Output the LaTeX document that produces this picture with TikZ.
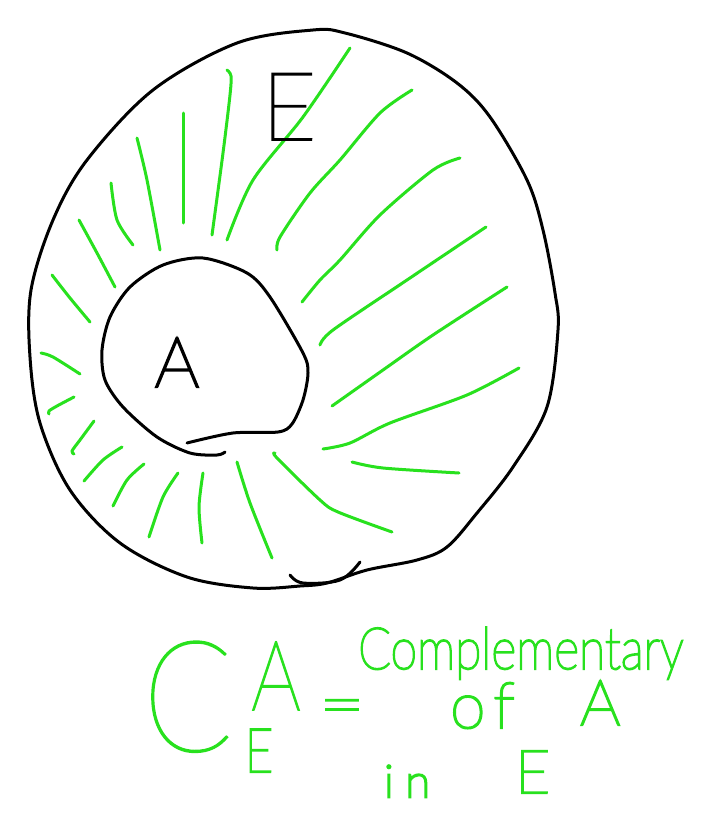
\documentclass[tikz,border=0pt]{standalone}
\usepackage{fontspec}
\setmainfont{Lato}
\newfontfamily\inkbig{Lato Thin}[FakeBold=1.2]
\newfontfamily\inkmid{Lato Thin}[FakeBold=2]
\newfontfamily\inksmall{Lato Thin}[FakeBold=3.5]
\newfontfamily\inktiny{Lato Thin}[FakeBold=5.5]
\definecolor{hgreen}{RGB}{40,225,30}
\begin{document}
\begin{tikzpicture}[x=1pt,y=-1pt,
  ink/.style={line width=3pt, line cap=round, line join=round},
  outline/.style={ink, draw=black},
  hatch/.style={ink, draw=hgreen},
  gtext/.style={text=hgreen, inner sep=0pt},
  btext/.style={text=black, inner sep=0pt}]
\useasboundingbox (0,0) rectangle (713,830);
\fill[white] (0,0) rectangle (713,830);

% outer set E
\draw[outline] plot[smooth cycle, tension=0.55] coordinates {
 (313,30) (345,33) (407,53) (457,83) (490,117) (527,180) (543,230) (555,293)
 (558,330) (547,407) (513,467) (477,513) (447,547) (417,560) (367,570)
 (327,583) (300,586) (253,588) (187,577) (120,543) (70,490) (40,423)
 (30,357) (31,290) (53,220) (87,160) (153,90) (237,43)};
% small hook at the bottom
\draw[outline] plot[smooth, tension=0.6] coordinates {(290,575) (303,583) (340,580) (360,562)};

% inner set A
\draw[outline] plot[smooth, tension=0.5] coordinates {
 (187,443) (233,433) (278,432) (292,424) (303,400) (308,373) (303,353)
 (270,297) (247,273) (203,258) (163,265) (130,287) (110,317) (102,350)
 (105,380) (123,407) (157,437) (190,453) (217,455) (225,452)};

% green hatching
\draw[hatch] plot[smooth] coordinates {(350,48) (303,117) (253,180) (227,240)};
\draw[hatch] plot[smooth] coordinates {(227,70) (231,76) (230,95) (223,153) (212,235)};
\draw[hatch] plot[smooth] coordinates {(183,113) (183,170) (183,223)};
\draw[hatch] plot[smooth] coordinates {(137,138) (147,180) (160,250)};
\draw[hatch] plot[smooth] coordinates {(111,183) (117,220) (133,245)};
\draw[hatch] plot[smooth] coordinates {(79,220) (97,253) (115,287)};
\draw[hatch] plot[smooth] coordinates {(52,275) (70,298) (90,322)};
\draw[hatch] plot[smooth] coordinates {(412,90) (380,113) (340,160) (310,193) (280,237) (277,250)};
\draw[hatch] plot[smooth] coordinates {(460,158) (433,170) (380,215) (340,260) (320,280) (302,302)};
\draw[hatch] plot[smooth] coordinates {(486,227) (407,280) (333,330) (320,345)};
\draw[hatch] plot[smooth] coordinates {(507,287) (433,335) (383,370) (332,406)};
\draw[hatch] plot[smooth] coordinates {(519,368) (467,395) (390,423) (350,443) (323,449)};
\draw[hatch] plot[smooth] coordinates {(352,462) (383,468) (459,473)};
\draw[hatch] plot[smooth] coordinates {(275,453) (277,458) (320,500) (338,512) (392,532)};
\draw[hatch] plot[smooth] coordinates {(237,462) (250,503) (272,558)};
\draw[hatch] plot[smooth] coordinates {(203,473) (199,507) (202,543)};
\draw[hatch] plot[smooth] coordinates {(178,473) (163,497) (149,537)};
\draw[hatch] plot[smooth] coordinates {(144,464) (127,480) (113,506)};
\draw[hatch] plot[smooth] coordinates {(122,447) (103,460) (84,481)};
\draw[hatch] plot[smooth] coordinates {(94,421) (80,440) (72,451) (74,454)};
\draw[hatch] plot[smooth] coordinates {(74,397) (57,406) (49,411) (49,414)};
\draw[hatch] plot[smooth] coordinates {(41,353) (53,357) (80,374)};

% labels of the sets
\node[btext, anchor=base, font=\inkmid\fontsize{95}{95}\selectfont] (Elabel) at (289,140) {E};
\node[btext, anchor=base, font=\inksmall\fontsize{70}{70}\selectfont] (Alabel) at (177,387) {A};

% formula
\node[gtext, anchor=base, xscale=0.85, font=\inkbig\fontsize{155}{155}\selectfont] (C) at (188,751) {C};
\node[gtext, anchor=base, xscale=0.8, font=\inkmid\fontsize{97}{97}\selectfont] (supA) at (276,710) {A};
\node[gtext, anchor=base, xscale=0.8, font=\inksmall\fontsize{61}{61}\selectfont] (subE) at (259,772) {E};
\node[gtext, anchor=center, yscale=0.8, font=\inksmall\fontsize{78}{78}\selectfont] (eq) at (342,713) {=};
\node[gtext, anchor=base west, xscale=0.83, font=\inksmall\fontsize{58}{58}\selectfont] (compl) at (358,669) {Complementary};
\node[gtext, anchor=base west, font=\inksmall\fontsize{64}{64}\selectfont] (of) at (450,728) {o\hspace{8pt}f};
\node[gtext, anchor=base west, font=\inksmall\fontsize{63}{63}\selectfont] (ofA) at (580,725) {A};
\node[gtext, anchor=base west, font=\inktiny\fontsize{45}{45}\selectfont] (in) at (384,797) {i\hspace{12pt}n};
\node[gtext, anchor=base west, font=\inksmall\fontsize{60}{60}\selectfont] (inE) at (515,793) {E};
\end{tikzpicture}
\end{document}
